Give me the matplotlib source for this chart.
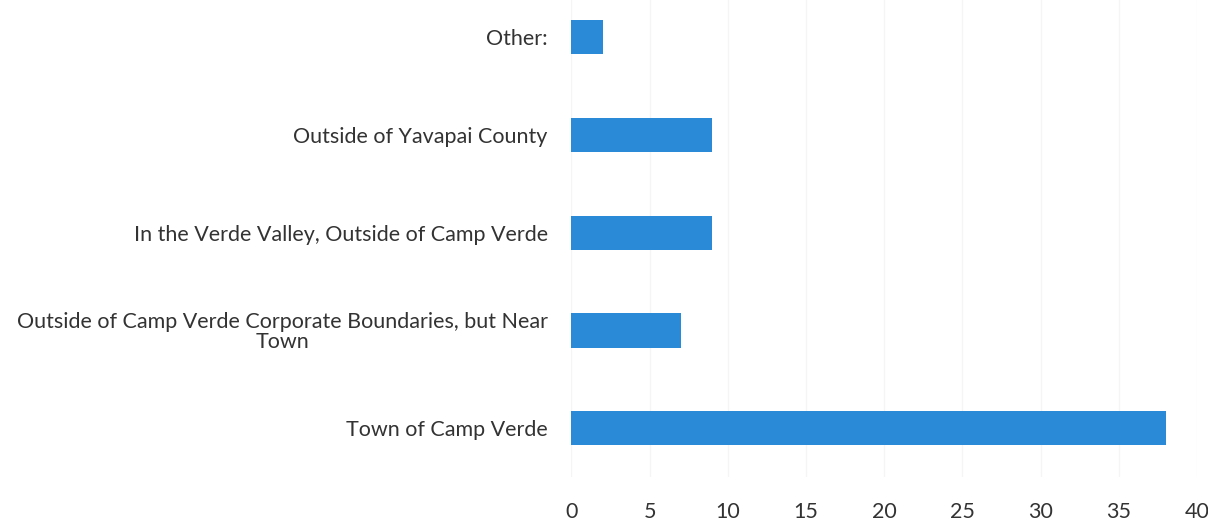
import matplotlib
matplotlib.use("Agg")
import matplotlib.pyplot as plt

# survey answers, bottom to top as drawn
categories = [
    "Town of Camp Verde",
    "Outside of Camp Verde Corporate Boundaries, but Near\nTown",
    "In the Verde Valley, Outside of Camp Verde",
    "Outside of Yavapai County",
    "Other:",
]
counts = [38, 7, 9, 9, 2]
x_ticks = [0, 5, 10, 15, 20, 25, 30, 35, 40]

plt.rcParams['font.family'] = ['Lato', 'DejaVu Sans']

fig = plt.figure(figsize=(12.08, 5.29), dpi=100)
ax = fig.add_axes([0.473, 0.098, 0.518, 0.902])

ypos = list(range(len(categories)))
ax.barh(ypos, counts, height=0.35, color="#2a8ad8", zorder=3)

ax.set_xlim(0, 40)
ax.set_ylim(-0.5, 4.38)
ax.set_xticks(x_ticks)
ax.set_yticks(ypos)
ax.set_yticklabels(categories, multialignment="center", linespacing=0.95)
ax.grid(axis="x", color="#f5f5f5", linewidth=1, zorder=0)

for s in ax.spines.values():
    s.set_visible(False)
ax.tick_params(axis="both", length=0, labelsize=15.5, colors="#333333")
ax.tick_params(axis="y", pad=17)
ax.tick_params(axis="x", pad=18)

fig.savefig("out.png", dpi=100)
